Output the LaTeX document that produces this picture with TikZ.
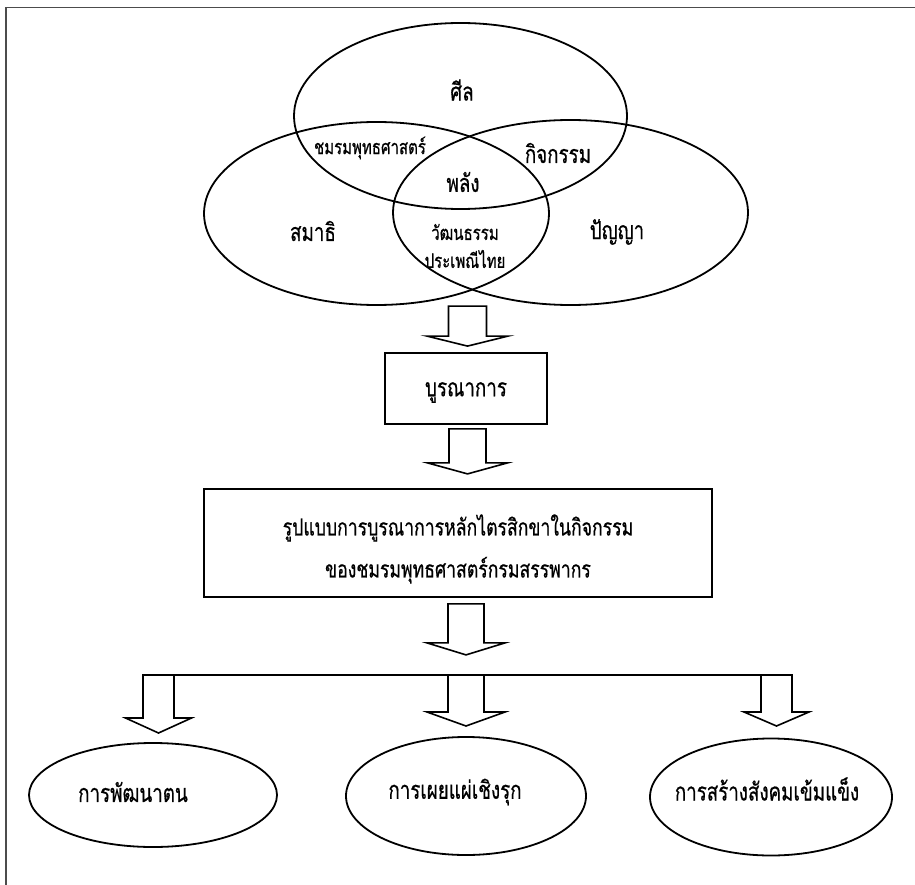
\documentclass[tikz,border=0pt]{standalone}
\usepackage{fontspec}
\newfontfamily\thaifont[Script=Thai, FakeStretch=0.75, FakeBold=0.6]{Loma}
\usetikzlibrary{shapes,calc}

\begin{document}
\begin{tikzpicture}[x=1pt, y=-1pt,
    circ/.style={ellipse, draw, line width=1.8pt, inner sep=0pt},
    box/.style={rectangle, draw, line width=1.8pt, inner sep=0pt},
    bigtext/.style={font=\thaifont\fontsize{25}{42}\selectfont, inner sep=0pt},
    smalltext/.style={font=\thaifont\fontsize{20}{28}\selectfont, inner sep=0pt},
    pics/hollow/.style n args={4}{code={
        \draw [line width=1.6pt, fill=white] (-#1,0) -- (-#1,#2) -- (-#3,#2) -- (0,#2+#4) -- (#3,#2) -- (#1,#2) -- (#1,0) -- cycle;
    }}]

    \useasboundingbox (0,0) rectangle (915,885);
    % page frame
    \draw [black!70, line width=1.8pt] (915,7.5) -- (6,7.5) -- (6,885);

    	%-----Circles-----
        % Sila circle
        \node [circ, minimum width=333pt, minimum height=186pt] (sila) at (460.5,116) {};
        % Samadhi circle
        \node [circ, minimum width=345pt, minimum height=183pt] (samadhi) at (376.5,213.5) {};
        % Panya circle
        \node [circ, minimum width=355pt, minimum height=185pt] (panya) at (570.5,212.5) {};

        % Circle labels
        \node [bigtext] (silatext) at (462,90) {ศีล};
        \node [smalltext] (clubtext) at (370,148) {ชมรมพุทธศาสตร์};
        \node [bigtext] (acttext) at (558,153) {กิจกรรม};
        \node [bigtext] (powertext) at (463,182) {พลัง};
        \node [bigtext] (samadhitext) at (313,231) {สมาธิ};
        \node [bigtext] (panyatext) at (617,232) {ปัญญา};
        \node [smalltext, align=center] (culttext) at (465,246) {วัฒนธรรม\\ประเพณีไทย};

    	%-----Boxes-----
        % Integration box
        \node [box, minimum width=162pt, minimum height=71pt] (integ) at (466,388.5) {};
        \node [bigtext] (integtext) at ($(integ.center)+(0,4)$) {บูรณาการ};
        % Model box
        \node [box, minimum width=508pt, minimum height=108pt] (model) at (458,543) {};
        \node [bigtext, font=\thaifont\fontsize{23.5}{42}\selectfont, align=center] (modeltext) at ($(model.center)+(0,6)$) {%
            รูปแบบการบูรณาการหลักไตรสิกขาในกิจกรรม \\
            ของชมรมพุทธศาสตร์กรมสรรพากร
        };

    	%-----Arrows-----
        \pic at ($(integ.north)+(1.5,-46)$) {hollow={19}{30}{40.5}{10}};
        \pic at ($(integ.south)+(1.5,4)$) {hollow={18.5}{34}{40}{11}};
        \pic at ($(model.south)+(8,6)$) {hollow={18}{39}{39}{12}};

        % Branch bar
        \coordinate (barleft) at (143,675);
        \coordinate (barright) at (792,675);
        \pic at ($(barleft)+(15.5,0)$) {hollow={15.5}{43}{33}{15}};
        \pic at (466,675) {hollow={18}{37}{39}{14}};
        \pic at ($(barright)+(-15.5,0)$) {hollow={15.5}{37}{32.5}{14}};
        \draw [line width=2.8pt] (barleft) -- (barright);

    	%-----Results-----
        % Self development
        \node [circ, minimum width=248pt, minimum height=104pt] (self) at (153,795) {};
        \node [bigtext] (selftext) at (133,792) {การพัฒนาตน};
        % Proactive propagation
        \node [circ, minimum width=240pt, minimum height=118pt] (spread) at (466,796) {};
        \node [bigtext] (spreadtext) at (455,792) {การเผยแผ่เชิงรุก};
        % Strong society
        \node [circ, minimum width=242pt, minimum height=117pt] (society) at (771,797) {};
        \node [bigtext] (societytext) at (767,789) {การสร้างสังคมเข้มแข็ง};

\end{tikzpicture}
\end{document}
